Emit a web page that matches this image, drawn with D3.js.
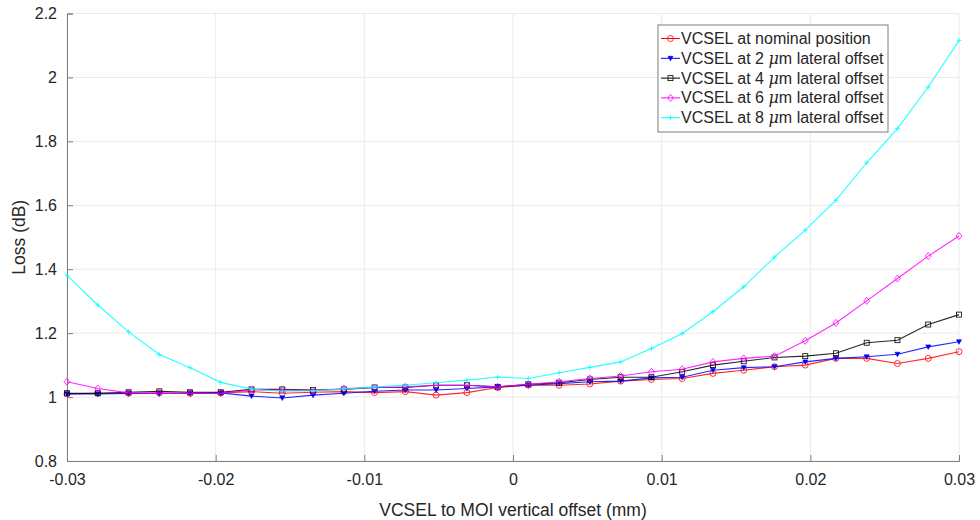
<!DOCTYPE html>
<html>
<head>
<meta charset="utf-8">
<script src="https://cdn.jsdelivr.net/npm/d3@7"></script>
<style>
  body { margin: 0; background: #fff; }
  text { font-family: "Liberation Sans", Arial, sans-serif; }
</style>
</head>
<body>
<div id="chart"></div>
<script>
// vertical offset positions (mm), 30 samples
var offsets = [-0.03, -0.02793, -0.02586, -0.02379, -0.02172, -0.01966, -0.01759, -0.01552, -0.01345, -0.01138,
               -0.00931, -0.00724, -0.00517, -0.00310, -0.00103, 0.00103, 0.00310, 0.00517, 0.00724, 0.00931,
               0.01138, 0.01345, 0.01552, 0.01759, 0.01966, 0.02172, 0.02379, 0.02586, 0.02793, 0.03];

var lossNominal = [1.010, 1.012, 1.012, 1.013, 1.012, 1.013, 1.017, 1.012, 1.015, 1.017,
                   1.014, 1.017, 1.006, 1.014, 1.030, 1.037, 1.037, 1.041, 1.050, 1.055,
                   1.058, 1.074, 1.084, 1.095, 1.100, 1.121, 1.121, 1.105, 1.121, 1.142];
var loss2um = [1.010, 1.010, 1.011, 1.011, 1.012, 1.013, 1.003, 0.997, 1.006, 1.012,
               1.018, 1.022, 1.022, 1.027, 1.032, 1.037, 1.042, 1.048, 1.050, 1.060,
               1.062, 1.084, 1.092, 1.095, 1.110, 1.121, 1.126, 1.134, 1.157, 1.173];
var loss4um = [1.012, 1.012, 1.015, 1.018, 1.015, 1.015, 1.024, 1.024, 1.022, 1.024,
               1.030, 1.030, 1.037, 1.037, 1.032, 1.040, 1.045, 1.055, 1.062, 1.062,
               1.079, 1.100, 1.112, 1.124, 1.128, 1.137, 1.170, 1.178, 1.227, 1.258];
var loss6um = [1.048, 1.027, 1.013, 1.012, 1.012, 1.012, 1.022, 1.022, 1.020, 1.027,
               1.030, 1.032, 1.037, 1.037, 1.032, 1.040, 1.048, 1.058, 1.066, 1.079,
               1.087, 1.110, 1.121, 1.128, 1.176, 1.232, 1.301, 1.371, 1.441, 1.504];
var loss8um = [1.381, 1.288, 1.204, 1.133, 1.092, 1.046, 1.025, 1.018, 1.020, 1.025,
               1.032, 1.037, 1.045, 1.053, 1.063, 1.058, 1.076, 1.093, 1.110, 1.152,
               1.199, 1.267, 1.345, 1.438, 1.522, 1.616, 1.733, 1.840, 1.970, 2.116];

var xTicks = [-0.03, -0.02, -0.01, 0, 0.01, 0.02, 0.03];
var xTickLabels = ["-0.03", "-0.02", "-0.01", "0", "0.01", "0.02", "0.03"];
var yTicks = [0.8, 1, 1.2, 1.4, 1.6, 1.8, 2, 2.2];
var yTickLabels = ["0.8", "1", "1.2", "1.4", "1.6", "1.8", "2", "2.2"];

var series = [
  { pre: "VCSEL at nominal position", num: null, values: lossNominal, color: "#ff0000", marker: "circle" },
  { pre: "VCSEL at 2 ", num: "2", values: loss2um, color: "#0000ff", marker: "tri" },
  { pre: "VCSEL at 4 ", num: "4", values: loss4um, color: "#000000", marker: "square" },
  { pre: "VCSEL at 6 ", num: "6", values: loss6um, color: "#ff00ff", marker: "diamond" },
  { pre: "VCSEL at 8 ", num: "8", values: loss8um, color: "#00ffff", marker: "plus" }
];

var w = 980, h = 520;
var margin = { left: 67, right: 21, top: 13.5, bottom: 59 };
var iw = w - margin.left - margin.right;
var ih = h - margin.top - margin.bottom;

var svg = d3.select("#chart").append("svg")
  .attr("width", w).attr("height", h);

var x = d3.scaleLinear().domain([-0.03, 0.03]).range([0, iw]);
var y = d3.scaleLinear().domain([0.8, 2.2]).range([ih, 0]);

var g = svg.append("g").attr("transform", "translate(" + margin.left + "," + margin.top + ")");

//grid
g.append("g").selectAll("line.gx").data(xTicks).enter().append("line")
  .attr("x1", function(d) { return x(d); }).attr("x2", function(d) { return x(d); })
  .attr("y1", 0).attr("y2", ih)
  .attr("stroke", "#ebebeb").attr("stroke-width", 1);
g.append("g").selectAll("line.gy").data(yTicks).enter().append("line")
  .attr("x1", 0).attr("x2", iw)
  .attr("y1", function(d) { return y(d); }).attr("y2", function(d) { return y(d); })
  .attr("stroke", "#ebebeb").attr("stroke-width", 1);

//axes, ticks inside like matlab
var xAxis = g.append("g").attr("transform", "translate(0," + ih + ")")
  .call(d3.axisBottom(x).tickValues(xTicks).tickSize(-6).tickPadding(13)
    .tickFormat(function(d, i) { return xTickLabels[i]; }));
var yAxis = g.append("g")
  .call(d3.axisLeft(y).tickValues(yTicks).tickSize(-6).tickPadding(10)
    .tickFormat(function(d, i) { return yTickLabels[i]; }));

[xAxis, yAxis].forEach(function(a) {
  a.select(".domain").attr("stroke", "#808080");
  a.selectAll(".tick line").attr("stroke", "#808080");
  a.selectAll(".tick text").attr("fill", "#262626").style("font-size", "16px")
    .style("font-family", "'Liberation Sans', Arial, sans-serif");
});

//lines and markers
var line = d3.line()
  .x(function(d, i) { return x(offsets[i]); })
  .y(function(d) { return y(d); });

function drawMarker(sel, type, color) {
  if (type === "circle") {
    sel.append("circle").attr("r", 3).attr("fill", "none").attr("stroke", color).attr("stroke-width", 0.8);
  } else if (type === "tri") {
    sel.append("path").attr("d", "M-2.5,-2L2.5,-2L0,2.5Z").attr("fill", color).attr("stroke", color).attr("stroke-width", 0.6);
  } else if (type === "square") {
    sel.append("rect").attr("x", -2.5).attr("y", -2.5).attr("width", 5).attr("height", 5)
      .attr("fill", "none").attr("stroke", color).attr("stroke-width", 0.8);
  } else if (type === "diamond") {
    sel.append("path").attr("d", "M0,-3.5L3,0L0,3.5L-3,0Z").attr("fill", "none").attr("stroke", color).attr("stroke-width", 0.8);
  } else {
    sel.append("path").attr("d", "M-2.5,0L2.5,0M0,-2.5L0,2.5").attr("stroke", color).attr("stroke-width", 0.8);
  }
}

series.forEach(function(s) {
  g.append("path").datum(s.values)
    .attr("d", line).attr("fill", "none")
    .attr("stroke", s.color).attr("stroke-width", 1.1).attr("stroke-opacity", 0.85);
  g.append("g").selectAll("g").data(s.values).enter().append("g")
    .attr("transform", function(d, i) { return "translate(" + x(offsets[i]) + "," + y(d) + ")"; })
    .each(function() { drawMarker(d3.select(this), s.marker, s.color); });
});

//axis labels
svg.append("text")
  .attr("x", margin.left + iw / 2).attr("y", 516)
  .attr("text-anchor", "middle").attr("fill", "#262626").style("font-size", "17.5px")
  .text("VCSEL to MOI vertical offset (mm)");
svg.append("text")
  .attr("transform", "translate(25," + (margin.top + ih / 2) + ") rotate(-90)")
  .attr("text-anchor", "middle").attr("fill", "#262626").style("font-size", "17.5px")
  .text("Loss (dB)");

//legend
var lx = 658, ly = 25, lw = 230, lh = 107;
var leg = svg.append("g");
leg.append("rect").attr("x", lx).attr("y", ly).attr("width", lw).attr("height", lh)
  .attr("fill", "#fff").attr("stroke", "#7f7f7f").attr("stroke-width", 1);

series.forEach(function(s, i) {
  var cy = ly + 13.5 + i * 19.8;
  leg.append("line").attr("x1", lx + 3).attr("x2", lx + 22).attr("y1", cy).attr("y2", cy)
    .attr("stroke", s.color).attr("stroke-width", 1);
  var m = leg.append("g").attr("transform", "translate(" + (lx + 12.5) + "," + cy + ")");
  drawMarker(m, s.marker, s.color);
  var t = leg.append("text").attr("x", lx + 23).attr("y", cy + 5.5)
    .attr("fill", "#262626").style("font-size", "16px");
  if (s.num === null) {
    t.text(s.pre);
  } else {
    t.append("tspan").text(s.pre);
    t.append("tspan").style("font-style", "italic").style("font-family", "'DejaVu Serif', serif").text("\u03bc");
    t.append("tspan").text("m lateral offset");
  }
});
</script>
</body>
</html>
